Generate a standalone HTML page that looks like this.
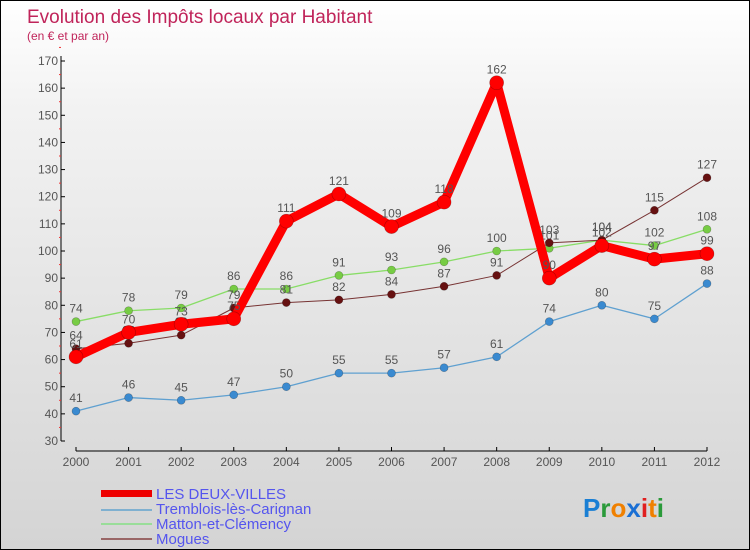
<!DOCTYPE html>
<html><head><meta charset="utf-8"><style>
body{margin:0;}
#c{width:748px;height:548px;border:1px solid #000;position:relative;background:linear-gradient(#fff,#f2f2f2 20%,#d4d4d4);font-family:"Liberation Sans",sans-serif;overflow:hidden}
svg text{font-family:"Liberation Sans",sans-serif}
</style></head><body>
<div id="c">
<svg id="s" width="748" height="548">
<text x="26" y="22" font-size="19" fill="#c0245a">Evolution des Impôts locaux par Habitant</text>
<text x="26" y="39" font-size="12" fill="#c0245a">(en € et par an)</text>
<g id="ax"></g><g id="series"></g>
<g>
<rect x="100" y="489" width="51" height="7" fill="#e00"/>
<rect x="100" y="508" width="51" height="2" fill="#7fb0d0"/>
<rect x="100" y="522" width="51" height="2" fill="#9d9"/>
<rect x="100" y="537" width="51" height="2" fill="#966"/>
<text x="155" y="498" font-size="15" fill="#5555ee">LES DEUX-VILLES</text>
<text x="155" y="513" font-size="15" fill="#5555ee">Tremblois-lès-Carignan</text>
<text x="155" y="528" font-size="15" fill="#5555ee">Matton-et-Clémency</text>
<text x="155" y="543" font-size="15" fill="#5555ee">Mogues</text>
</g>
<text x="582" y="516" font-size="26" font-weight="bold"><tspan fill="#1a7fd4">P</tspan><tspan fill="#2a9a3a">r</tspan><tspan fill="#f08000">o</tspan><tspan fill="#1a6fd4">x</tspan><tspan fill="#e02020">i</tspan><tspan fill="#f08000">t</tspan><tspan fill="#2a9a3a">i</tspan></text>
</svg></div>
<script>
const years=[2000,2001,2002,2003,2004,2005,2006,2007,2008,2009,2010,2011,2012];
const yTicks=[30,40,50,60,70,80,90,100,110,120,130,140,150,160,170];
const deuxVilles=[61,70,73,75,111,121,109,118,162,90,102,97,99];
const tremblois=[41,46,45,47,50,55,55,57,61,74,80,75,88];
const matton=[74,78,79,86,86,91,93,96,100,101,104,102,108];
const mogues=[64,66,69,79,81,82,84,87,91,103,104,115,127];
const NS="http://www.w3.org/2000/svg";
const X=i=>75+i*(706-75)/(years.length-1);
const Y=v=>440-(v-30)*380/140;
function mk(t,a,p){const e=document.createElementNS(NS,t);for(const k in a)e.setAttribute(k,a[k]);p.appendChild(e);return e;}
const ax=document.getElementById('ax');
const yl=mk('line',{x1:60,y1:55,x2:60,y2:440,stroke:'#000'},ax);


yTicks.forEach(v=>{
 mk('line',{x1:60,y1:Y(v),x2:64,y2:Y(v),stroke:'#000'},ax);
 mk('line',{x1:58,y1:Y(v+5),x2:60,y2:Y(v+5),stroke:'#e33'},ax);
 const t=mk('text',{x:57,y:Y(v)+4,'font-size':12,fill:'#555','text-anchor':'end'},ax);t.textContent=v;
 
 
});
const xl=mk('line',{x1:75,y1:450,x2:706,y2:450,stroke:'#000'},ax);


years.forEach((y,i)=>{
 mk('line',{x1:X(i),y1:446,x2:X(i),y2:450,stroke:'#000'},ax);
 const t=mk('text',{x:X(i),y:465,'font-size':12,fill:'#555','text-anchor':'middle'},ax);t.textContent=y;
 
 
});
const sg=document.getElementById('series');
function draw(vals,color,w,r,name,dotFill){
 const g=mk('g',{},sg);
 
 
 const p=mk('polyline',{points:vals.map((v,i)=>X(i)+','+Y(v)).join(' '),fill:'none',stroke:color,'stroke-width':w,'stroke-linejoin':'round'},g);
 
 
 vals.forEach((v,i)=>{
  const c=mk('circle',{cx:X(i),cy:Y(v),r:r,fill:dotFill,stroke:'rgba(0,0,0,0.3)','stroke-width':0.6},g);
  
  
  const t=mk('text',{x:X(i),y:Y(v)-9,'font-size':12,fill:'#555','text-anchor':'middle'},g);t.textContent=v;
  
  
 });
}
draw(tremblois,'#5fa0d0',1.3,4,'tremblois','#3a8ad0');
draw(matton,'#8d6',1.3,4,'matton','#7c4');
draw(mogues,'#733',1,4,'mogues','#611');
draw(deuxVilles,'#f00',9,7,'les-deux-villes','#f00');
</script>
</body></html>
